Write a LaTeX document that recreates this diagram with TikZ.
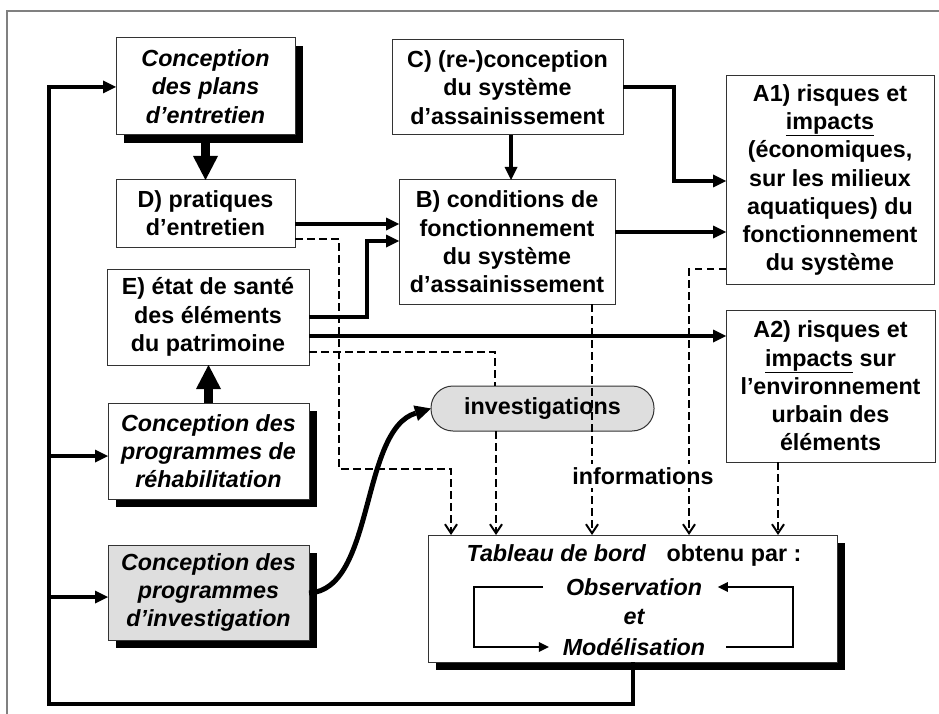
\documentclass[tikz,border=0pt]{standalone}
\usepackage{fontspec}
\setmainfont{Liberation Sans}
\usetikzlibrary{arrows.meta,shadows,calc}
\tikzset{
  base/.style={font=\fontsize{23.3}{28.3}\selectfont\bfseries, align=center, inner sep=0pt, outer sep=0pt},
  box/.style={base, rectangle, draw=black!80, line width=1pt, fill=white},
  shbox/.style={box, drop shadow={shadow xshift=8pt, shadow yshift=-8pt, fill=black, opacity=1}},
  ital/.style={font=\fontsize{23.3}{28.3}\selectfont\bfseries\itshape},
  conn/.style={line width=4.5pt, -{Triangle[length=13pt,width=13pt,line width=0pt]}},
  blockarrow/.style={line width=9pt, -{Triangle[length=24pt,width=25pt,line width=0pt]}},
  curvearrow/.style={line width=5pt, -{Triangle[length=16pt,width=16pt,line width=0pt]}},
  dconn/.style={line width=2.6pt, dash pattern=on 7.5pt off 4.5pt, -{Straight Barb[length=9pt,width=12pt,line width=2pt]}},
  dline/.style={line width=2.6pt, dash pattern=on 7.5pt off 4.5pt},
  loopc/.style={line width=2.5pt, -{Triangle[length=10pt,width=10pt,line width=0pt]}},
  frameline/.style={draw=black!50, line width=1.5pt},
}
\begin{document}
\begin{tikzpicture}[x=1pt,y=-1pt]
\useasboundingbox (0,0) rectangle (939,714);
\draw[frameline] (7,714) -- (7,11) -- (939,11);

% boxes
\node[shbox, ital, minimum width=179pt, minimum height=97pt] (plans) at (205.5,86.5) {Conception\\des plans\\d’entretien};
\node[box, minimum width=179pt, minimum height=67pt] (D) at (205.5,213.5) {D) pratiques\\d’entretien};
\node[box, minimum width=202pt, minimum height=96pt] (E) at (208,317) {E) état de santé\\des éléments\\du patrimoine};
\node[shbox, ital, minimum width=201pt, minimum height=96pt] (rehab) at (208.5,451) {Conception des\\programmes de\\réhabilitation};
\node[shbox, ital, fill=black!13, minimum width=201pt, minimum height=95pt] (invc) at (208.5,592.5) {Conception des\\programmes\\d’investigation};
\node[box, minimum width=231pt, minimum height=95pt] (C) at (507.5,87.5) {C) (re-)conception\\du système\\d’assainissement};
\node[box, minimum width=216pt, minimum height=124pt] (B) at (507,242) {B) conditions de\\fonctionnement\\du système\\d’assainissement};
\node[box, minimum width=208pt, minimum height=208pt] (A1) at (830,180) {A1) risques et\\\underline{impacts}\\(économiques,\\sur les milieux\\aquatiques) du\\fonctionnement\\du système};
\node[box, minimum width=209pt, minimum height=152pt] (A2) at (830.5,386) {A2) risques et\\\underline{impacts} sur\\l’environnement\\urbain des\\éléments};
\node[box, fill=black!13, rounded corners=22pt, minimum width=223pt, minimum height=45pt] (inv) at (542.5,408.5) {investigations};
\node[shbox, minimum width=409pt, minimum height=127pt] (tab) at (632.5,598.5) {};
\node[base] (title) at (634,555) {{\itshape Tableau de bord}\hspace{21pt}obtenu par :};
\node[base, ital] (obs) at (634,587) {Observation};
\node[base, ital] (et) at (634,617) {et};
\node[base, ital] (mod) at (634,647) {Modélisation};

% block arrows
\draw[blockarrow] (plans.south) -- (D.north);
\draw[blockarrow] (rehab.north) -- (rehab.north |- E.south);

% thick connectors
\draw[conn] (D.east |- 0,224) -- (B.west |- 0,224);
\draw[conn] (E.east |- 0,317) -| (367,241) -- (B.west |- 0,241);
\draw[conn] (E.east |- 0,336) -- (A2.west |- 0,336);
\draw[conn] (C.south -| 511,0) -- (B.north -| 511,0);
\draw[conn] (C.east |- 0,87) -| (674,181) -- (A1.west |- 0,181);
\draw[conn] (B.east |- 0,232) -- (A1.west |- 0,232);

% feedback loop
\coordinate (fbl) at (49,704);
\draw[conn] (tab.south -| 633,0) |- (fbl) |- (plans.west |- 0,87);
\coordinate (j1) at (49,456);
\coordinate (j2) at (49,597);
\draw[conn] (j1) -- (rehab.west |- j1);
\draw[conn] (j2) -- (invc.west |- j2);

% curved arrow
\draw[curvearrow] (invc.east |- 0,593) .. controls (375,590) and (360,430) .. (inv.west);

% dashed connectors
\draw[dconn] (D.east |- 0,239) -| (339,469) -| (tab.north -| 451,0);
\draw[dline] (E.east |- 0,352) -| (inv.north -| 495,0);
\draw[dconn] (inv.south -| 496,0) -- (tab.north -| 496,0);
\draw[dconn] (B.south -| 592,0) -- (tab.north -| 592,0);
\draw[dconn] (A1.west |- 0,269) -| (tab.north -| 689,0);
\draw[dconn] (A2.south -| 778,0) -- (tab.north -| 778,0);
\node[base, fill=white, inner sep=3pt] (info) at (643,476) {informations};

% inner loop
\draw[loopc] ([xshift=-23pt]obs.west) -- ++(-69,0) |- ([xshift=-14pt]mod.west);
\draw[loopc] ([xshift=21pt]mod.east) -- ++(67,0) |- ([xshift=16pt]obs.east);
\end{tikzpicture}
\end{document}
